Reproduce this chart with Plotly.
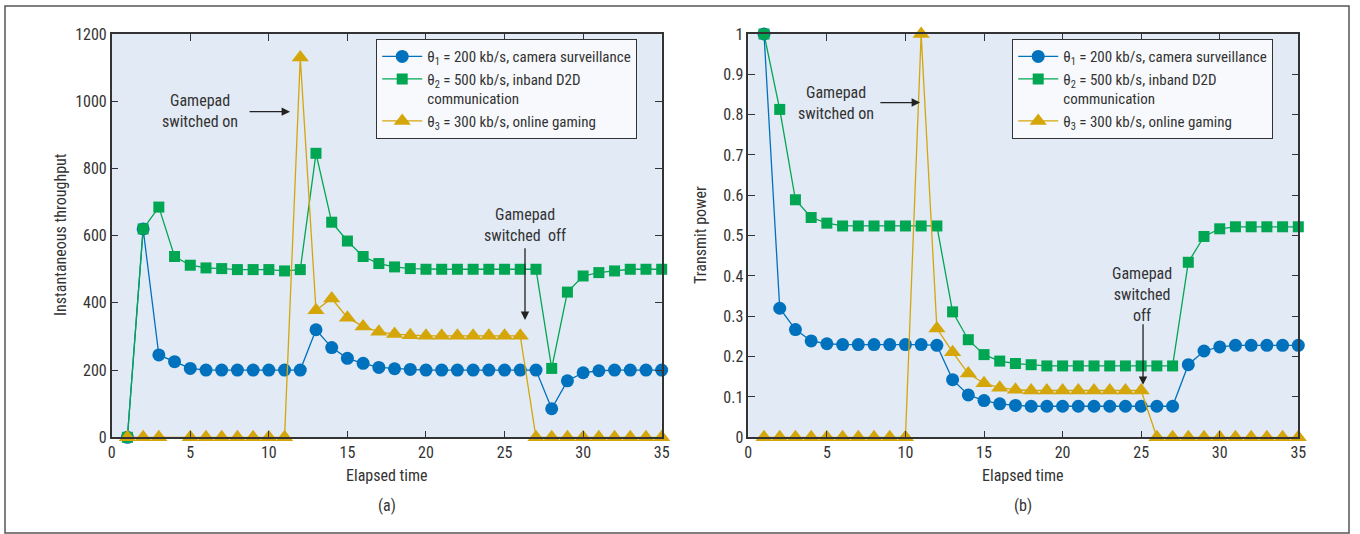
import plotly.graph_objects as go

# Elapsed time steps
steps = list(range(1, 36))

# (a) Instantaneous throughput per flow
thr_camera = [0, 620, 245, 225, 205, 200, 200, 200, 200, 200, 200, 200, 320, 267, 235,
              220, 208, 204, 202, 200, 200, 200, 200, 200, 200, 200, 200, 85, 168, 192,
              198, 200, 200, 200, 200]
thr_d2d = [0, 620, 685, 538, 512, 504, 502, 499, 499, 499, 495, 499, 845, 640, 584,
           538, 517, 507, 502, 500, 500, 500, 500, 500, 500, 500, 500, 205, 432, 480,
           490, 495, 500, 500, 500]
thr_gaming = [0, 0, 0, None, 0, 0, 0, 0, 0, 0, 0, 1130, 378, 413, 356,
              330, 314, 307, 304, 302, 302, 302, 302, 302, 302, 302, 0, 0, 0, 0,
              0, 0, 0, 0, 0]

# (b) Transmit power per flow
pow_camera = [1.0, 0.32, 0.267, 0.239, 0.232, 0.23, 0.23, 0.23, 0.23, 0.23, 0.23, 0.228,
              0.143, 0.105, 0.091, 0.083, 0.079, 0.077, 0.077, 0.077, 0.077, 0.077, 0.077,
              0.077, 0.077, 0.077, 0.077, 0.18, 0.214, 0.224, 0.228, 0.228, 0.228, 0.228, 0.228]
pow_d2d = [1.0, 0.813, 0.589, 0.545, 0.531, 0.524, 0.524, 0.524, 0.524, 0.524, 0.524, 0.524,
           0.311, 0.242, 0.205, 0.189, 0.183, 0.18, 0.177, 0.177, 0.177, 0.177, 0.177,
           0.177, 0.177, 0.177, 0.177, 0.434, 0.498, 0.517, 0.522, 0.522, 0.522, 0.522, 0.522]
pow_gaming = [0, 0, 0, 0, 0, 0, 0, 0, 0, 0, 1.0, 0.27, 0.211, 0.158, 0.134, 0.123, 0.118,
              0.116, 0.116, 0.116, 0.116, 0.116, 0.116, 0.116, 0.116, 0, 0, 0, 0, 0, 0, 0, 0, 0, 0]

series_names = [
    "θ<sub>1</sub> = 200 kb/s, camera surveillance",
    "θ<sub>2</sub> = 500 kb/s, inband D2D<br>communication",
    "θ<sub>3</sub> = 300 kb/s, online gaming",
]
x_ticks = [0, 5, 10, 15, 20, 25, 30, 35]
thr_ticks = [0, 200, 400, 600, 800, 1000, 1200]
pow_ticks = [0, 0.1, 0.2, 0.3, 0.4, 0.5, 0.6, 0.7, 0.8, 0.9, 1]

BLUE = "#0071bc"
GREEN = "#00a651"
GOLD = "#d4a60a"
FONT = "Roboto Condensed, Liberation Sans Narrow, Lato, sans-serif"
TXT = "#333333"

styles = [
    dict(color=BLUE, symbol="circle", size=13),
    dict(color=GREEN, symbol="square", size=11),
    dict(color=GOLD, symbol="triangle-up", size=15),
]

fig = go.Figure()

for vals, name, st in zip([thr_camera, thr_d2d, thr_gaming], series_names, styles):
    fig.add_trace(go.Scatter(
        x=steps, y=vals, name=name, mode="lines+markers", connectgaps=True,
        line=dict(color=st["color"], width=1.3),
        marker=dict(color=st["color"], symbol=st["symbol"], size=st["size"]),
        xaxis="x", yaxis="y", legend="legend", cliponaxis=False,
    ))

for vals, name, st in zip([pow_camera, pow_d2d, pow_gaming], series_names, styles):
    fig.add_trace(go.Scatter(
        x=steps, y=vals, name=name, mode="lines+markers",
        line=dict(color=st["color"], width=1.3),
        marker=dict(color=st["color"], symbol=st["symbol"], size=st["size"]),
        xaxis="x2", yaxis="y2", legend="legend2", cliponaxis=False,
    ))

W, H = 1360, 534
# plot areas in pixels: (left, right, top, bottom)
left_box = (111.7, 661.7, 34, 437.3)
right_box = (748.3, 1298.3, 34, 437.3)


def xdom(b):
    return [b[0] / W, b[1] / W]


def ydom(b):
    return [1 - b[3] / H, 1 - b[2] / H]


axis_common = dict(
    showline=True, linecolor="#333333", linewidth=1.5, mirror="ticks",
    ticks="inside", ticklen=7, tickwidth=1.3, tickcolor="#333333",
    showgrid=False, zeroline=False, automargin=False,
    tickfont=dict(family=FONT, size=16, color=TXT),
)

legend_common = dict(
    yanchor="top", xanchor="left",
    bgcolor="#f7f9fc", bordercolor="#333333", borderwidth=1.2,
    font=dict(family=FONT, size=15, color=TXT), itemwidth=40,
    valign="top", tracegroupgap=0,
)

fig.update_layout(
    width=W, height=H, autosize=False,
    margin=dict(l=0, r=0, t=0, b=0, pad=0, autoexpand=False),
    paper_bgcolor="white",
    plot_bgcolor="#e2eaf5",
    font=dict(family=FONT, color=TXT),
    xaxis=dict(domain=xdom(left_box), range=[0, 35], tickvals=x_ticks, anchor="y", **axis_common),
    yaxis=dict(domain=ydom(left_box), range=[0, 1200], tickvals=thr_ticks, anchor="x", **axis_common),
    xaxis2=dict(domain=xdom(right_box), range=[0, 35], tickvals=x_ticks, anchor="y2", **axis_common),
    yaxis2=dict(domain=ydom(right_box), range=[0, 1], tickvals=pow_ticks, anchor="x2", **axis_common),
    legend=dict(x=376 / W, y=1 - 39 / H, **legend_common),
    legend2=dict(x=1012 / W, y=1 - 39 / H, **legend_common),
)

# figure frame
fig.add_shape(type="rect", xref="paper", yref="paper",
              x0=5 / W, x1=1349 / W, y0=1 - 533 / H, y1=1 - 6 / H,
              line=dict(color="#555555", width=1.5), fillcolor="rgba(0,0,0,0)", layer="below")

ann_font = dict(family=FONT, size=16, color=TXT)
centered = dict(showarrow=False, font=ann_font, xanchor="center", yanchor="middle")

# axis titles and panel captions
for text, cx in [("Elapsed time", 386.7), ("Elapsed time", 1023.3)]:
    fig.add_annotation(text=text, xref="paper", yref="paper", x=cx / W, y=1 - 475 / H, **centered)
for text, cx in [("(a)", 386.7), ("(b)", 1023.3)]:
    fig.add_annotation(text=text, xref="paper", yref="paper", x=cx / W, y=1 - 505 / H, **centered)
fig.add_annotation(text="Instantaneous throughput", xref="paper", yref="paper",
                   x=60 / W, y=1 - 235 / H, textangle=-90, **centered)
fig.add_annotation(text="Transmit power", xref="paper", yref="paper",
                   x=700 / W, y=1 - 235 / H, textangle=-90, **centered)

# event labels
fig.add_annotation(text="Gamepad<br>switched on", xref="x", yref="y", x=5.6, y=971, **centered)
fig.add_annotation(text="Gamepad<br>switched  off", xref="x", yref="y", x=26.3, y=632, **centered)
fig.add_annotation(text="Gamepad<br>switched on", xref="x2", yref="y2", x=5.6, y=0.83, **centered)
fig.add_annotation(text="Gamepad<br>switched<br>off", xref="x2", yref="y2", x=25.05, y=0.355, **centered)

arrow_style = dict(showarrow=True, arrowhead=2, arrowsize=1.3, arrowwidth=1.3,
                   arrowcolor="#222222", text="")
fig.add_annotation(xref="x", yref="y", axref="x", ayref="y",
                   x=11.35, y=969, ax=8.68, ay=969, **arrow_style)
fig.add_annotation(xref="x", yref="y", axref="x", ayref="y",
                   x=26.3, y=349, ax=26.3, ay=567, **arrow_style)
fig.add_annotation(xref="x2", yref="y2", axref="x2", ayref="y2",
                   x=10.93, y=0.83, ax=8.31, ay=0.83, **arrow_style)
fig.add_annotation(xref="x2", yref="y2", axref="x2", ayref="y2",
                   x=25.12, y=0.13, ax=25.12, ay=0.284, **arrow_style)

fig.write_html(
    "out.html",
    post_script="document.body.style.margin='0';document.body.style.overflow='hidden';",
)
